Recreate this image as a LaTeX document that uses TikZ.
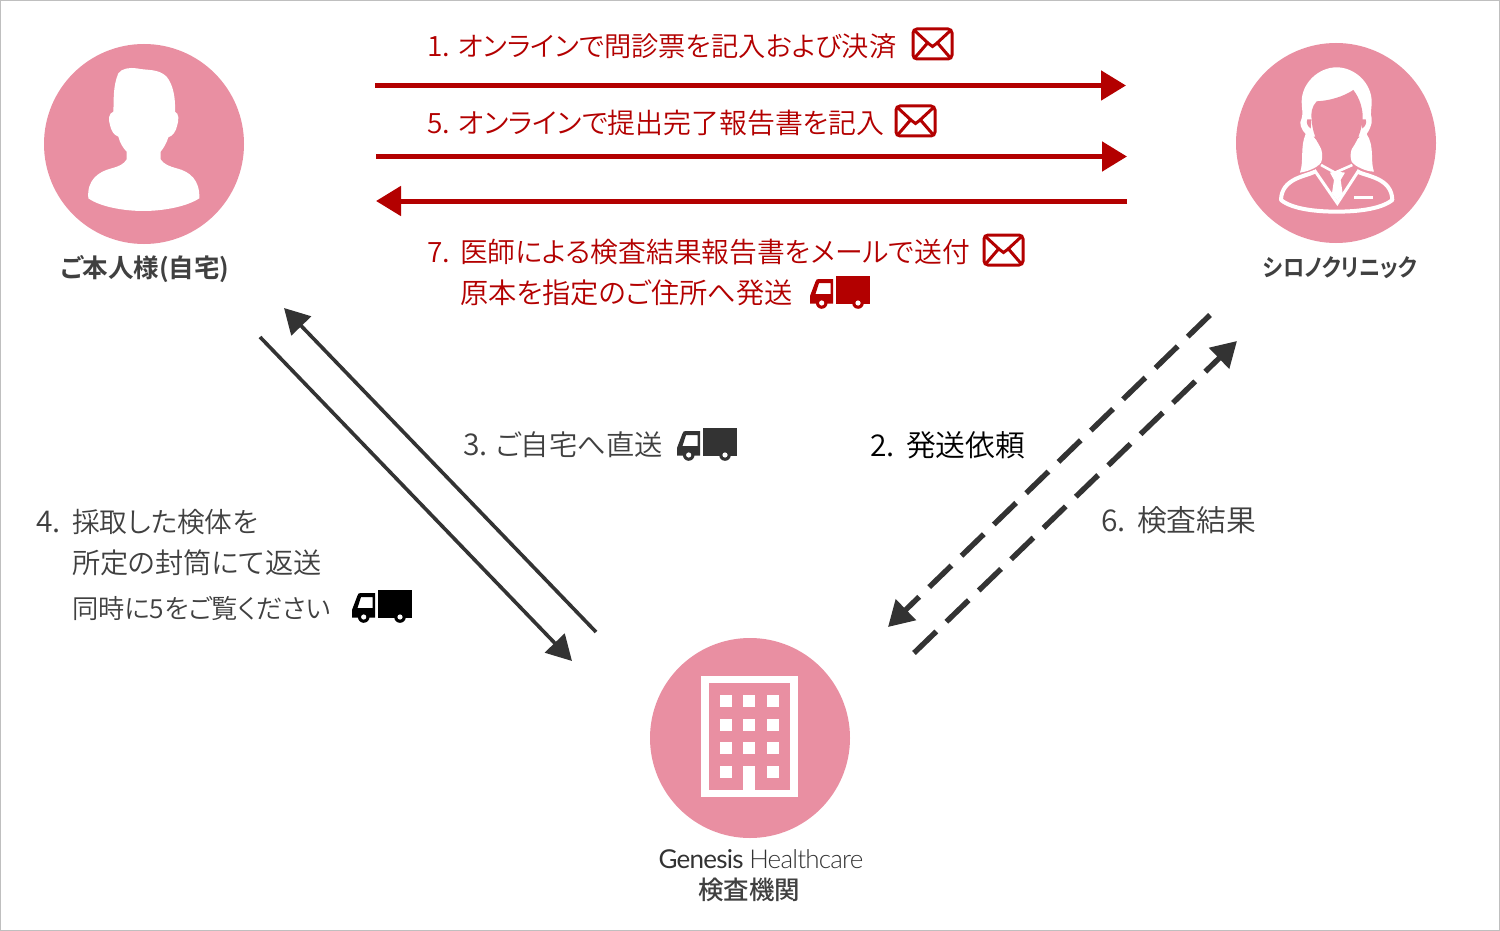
\documentclass[tikz,border=0pt]{standalone}
\usepackage{fontspec}
\usetikzlibrary{arrows.meta}
\setmainfont{Noto Sans CJK JP DemiLight}[BoldFont={Noto Sans CJK JP Bold},RawFeature=+palt]
\newfontfamily\jpmed{Noto Sans CJK JP Medium}
\newfontfamily\jpbold[RawFeature=+palt]{Noto Sans CJK JP Bold}
\newfontfamily\latinlight[LetterSpace=-3]{Lato Light}
\newfontfamily\latinreg[LetterSpace=-3]{Lato}
\definecolor{pinkc}{HTML}{E98FA2}
\definecolor{redc}{HTML}{B30000}
\definecolor{darkc}{HTML}{333333}
\definecolor{textc}{HTML}{404040}
\newcommand{\fs}[1]{\fontsize{#1}{#1}\selectfont}
\tikzset{
  x=1pt,y=-1pt,
  lbl/.style={anchor=base west,inner sep=0pt,outer sep=0pt},
  redlbl/.style={lbl,text=redc},
  darklbl/.style={lbl,text=textc},
  redarrow/.style={draw=redc,line width=5pt,-{Triangle[length=25pt,width=29pt]}},
  solidarrow/.style={draw=darkc,line width=3.6pt,-{Triangle[length=25pt,width=27pt]}},
  dasharrow/.style={draw=darkc,line width=5.4pt,dash pattern=on 31pt off 14pt,-{Triangle[length=25pt,width=28pt]}},
  circ/.style={circle,fill=pinkc,minimum size=200pt,inner sep=0pt,outer sep=0pt},
  envelope/.pic={
    \draw[line width=3pt,rounded corners=4pt,pic actions] (0,0) rectangle (39,30);
    \draw[line width=3pt,pic actions] (2,2) -- (15.5,14.5) -- (19.5,17.5) -- (23.5,14.5) -- (37,2);
    \draw[line width=3pt,pic actions] (2,28.5) -- (14.5,14) (37,28.5) -- (24.5,14);
  },
  truck/.pic={
    \fill[pic actions] (26,0) rectangle (60,27.5);
    \fill[pic actions,even odd rule] (0,27.5) -- (0,20) -- (5.5,5.5) .. controls (6,3.5) and (7,3) .. (9,3) -- (23,3) -- (23,27.5) -- cycle
      (9,7) -- (5.5,18) -- (20.5,18) -- (20.5,7) -- cycle;
    \fill[pic actions] (11.7,27) circle (5.8pt);
    \fill[white] (11.7,27) circle (2.6pt);
    \fill[pic actions] (48,27) circle (5.8pt);
    \fill[white] (48,27) circle (2.6pt);
  }
}
\begin{document}
\begin{tikzpicture}
\useasboundingbox (0,0) rectangle (1500,931);
\fill[white] (0,0) rectangle (1500,931);
\draw[draw=black!25,line width=1pt] (0.5,0.5) rectangle (1499.5,930.5);

% circles
\node[circ] (patient) at (144,144) {};
\node[circ] (clinic) at (1336,143) {};
\node[circ] (lab) at (750,738) {};

% patient icon
\begin{scope}[shift={(30,30)},x=0.3333pt,y=-0.3333pt]
\fill[white] (265,130) .. controls (275,115) and (300,112) .. (320,115)
  .. controls (350,122) and (385,115) .. (410,140)
  .. controls (430,165) and (437,205) .. (435,245)
  .. controls (447,250) and (447,270) .. (442,285)
  .. controls (438,305) and (428,318) .. (415,322)
  .. controls (410,340) and (400,355) .. (392,365)
  -- (392,388) .. controls (400,402) and (420,410) .. (440,415)
  .. controls (480,425) and (510,450) .. (508,505)
  .. controls (470,530) and (400,543) .. (340,543)
  .. controls (280,543) and (210,530) .. (175,505)
  .. controls (170,450) and (205,425) .. (245,415)
  .. controls (265,410) and (283,402) .. (290,388)
  -- (290,365) .. controls (280,355) and (270,340) .. (265,320)
  .. controls (250,315) and (243,300) .. (240,285)
  .. controls (235,270) and (235,250) .. (250,245)
  .. controls (252,210) and (248,170) .. (265,130) -- cycle;
\end{scope}

% clinic icon
\begin{scope}[shift={(1220,30)},x=0.3333pt,y=-0.3333pt]
% hair
\fill[white] (350,112) .. controls (405,112) and (455,160) .. (455,215)
  .. controls (455,240) and (450,250) .. (455,265)
  .. controls (458,285) and (445,305) .. (440,312)
  .. controls (465,350) and (450,395) .. (462,425)
  .. controls (440,425) and (405,410) .. (395,395)
  .. controls (385,370) and (400,335) .. (420,320)
  .. controls (300,320) and (290,320) .. (280,320)
  .. controls (305,345) and (312,375) .. (303,398)
  .. controls (290,415) and (260,425) .. (240,428)
  .. controls (252,395) and (240,350) .. (257,312)
  .. controls (245,300) and (235,280) .. (245,265)
  .. controls (250,250) and (245,235) .. (245,215)
  .. controls (245,160) and (295,112) .. (350,112) -- cycle;
% face
\fill[pinkc] (400,180) .. controls (370,200) and (330,212) .. (290,214)
  .. controls (275,230) and (272,250) .. (275,270)
  .. controls (278,320) and (305,375) .. (350,393)
  .. controls (395,375) and (422,320) .. (428,270)
  .. controls (430,240) and (420,205) .. (400,180) -- cycle;
\fill[white] (256,262) .. controls (250,272) and (252,285) .. (262,295) -- (268,270) -- cycle;
\fill[white] (443,262) .. controls (450,272) and (448,285) .. (438,295) -- (432,270) -- cycle;
\fill[pinkc] (262,268) .. controls (258,278) and (262,288) .. (272,296) -- (274,268) -- cycle;
\fill[pinkc] (437,268) .. controls (441,278) and (437,288) .. (427,296) -- (425,268) -- cycle;
% shoulders / jacket outline
\draw[white,line width=4pt,line join=round] (285,425) .. controls (255,440) and (185,445) .. (183,510)
  .. controls (220,540) and (300,545) .. (350,545)
  .. controls (400,545) and (480,540) .. (517,510)
  .. controls (515,445) and (445,440) .. (412,425);
\draw[white,line width=3pt] (283,420) -- (352,520) -- (417,420);
\draw[white,line width=2.6pt] (303,405) -- (345,428) -- (397,405);
\fill[white] (330,428) -- (345,424) -- (375,428) -- (362,450) -- (368,490) -- (352,512) -- (336,490) -- (342,450) -- cycle;
\fill[white] (403,497) rectangle (460,507);
\end{scope}

% lab icon
\begin{scope}[shift={(640,630)},x=0.3333pt,y=-0.3333pt]
\fill[white] (183,138) rectangle (473,502);
\fill[pinkc] (206,160) rectangle (451,480);
\foreach \xx in {240,310,380}{
  \foreach \yy in {196,266,337}{
    \fill[white] (\xx,\yy) rectangle ++(36,36);
  }
}
\fill[white] (240,408) rectangle (276,444);
\fill[white] (380,408) rectangle (416,444);
\fill[white] (310,408) rectangle (346,502);
\end{scope}

% node labels
\node[anchor=base,inner sep=0pt,text=textc] (patientlbl) at (145,277) {\jpbold\fs{25.5}ご本人様(自宅)};
\node[anchor=base,inner sep=0pt,text=textc] (cliniclbl) at (1340,276) {\scalebox{0.885}[1]{\jpbold\fs{24}シロノクリニック}};
\node[anchor=base,inner sep=0pt,text=darkc] (genesis) at (761,868) {\fs{26}{\latinreg Genesis} {\latinlight Healthcare}};
\node[anchor=base,inner sep=0pt,text=textc] (lablbl) at (749,899) {\jpmed\fs{25.5}検査機関};

% coordinates for arrows
\coordinate (r1s) at (375,85.5); \coordinate (r1e) at (1126,85.5);
\coordinate (r2s) at (376,156.5); \coordinate (r2e) at (1127,156.5);
\coordinate (r3s) at (1127,201); \coordinate (r3e) at (376,201);
\coordinate (s1s) at (596,632); \coordinate (s1e) at (284,308);
\coordinate (s2s) at (260,337); \coordinate (s2e) at (572,661);
\coordinate (d1s) at (1210,315); \coordinate (d1e) at (888,627);
\coordinate (d2s) at (914,653); \coordinate (d2e) at (1237,341);

\draw[redarrow] (r1s) -- (r1e);
\draw[redarrow] (r2s) -- (r2e);
\draw[redarrow] (r3s) -- (r3e);
\draw[solidarrow] (s1s) -- (s1e);
\draw[solidarrow] (s2s) -- (s2e);
\draw[dasharrow] (d1s) -- (d1e);
\draw[dasharrow] (d2s) -- (d2e);

% red labels
\node[redlbl] (t1n) at (427,57) {\fs{28}1.};
\node[redlbl] (t1) at (458,57) {\fs{27.25}オンラインで問診票を記入および決済};
\node[redlbl] (t5n) at (427,134) {\fs{28}5.};
\node[redlbl] (t5) at (458,134) {\fs{27.9}オンラインで提出完了報告書を記入};
\node[redlbl] (t7n) at (427,262) {\fs{28}7.};
\node[redlbl] (t7) at (460,262) {\fs{27.8}医師による検査結果報告書をメールで送付};
\node[redlbl] (t7b) at (460,303) {\fs{28.25}原本を指定のご住所へ発送};

% dark labels
\node[darklbl] (t3n) at (463,455) {\fs{30}3.};
\node[darklbl] (t3) at (496,455) {\fs{28.3}ご自宅へ直送};
\node[darklbl,text=black] (t2n) at (870,456) {\fs{30}2.};
\node[darklbl,text=black] (t2) at (906,456) {\fs{29.8}発送依頼};
\node[darklbl] (t6n) at (1101,531) {\fs{30}6.};
\node[darklbl] (t6) at (1137,531) {\fs{29.8}検査結果};
\node[darklbl] (t4n) at (36,532) {\fs{30}4.};
\node[darklbl] (t4) at (72,532) {\fs{27.7}採取した検体を};
\node[darklbl] (t4b) at (72,573) {\fs{28.2}所定の封筒にて返送};
\node[darklbl] (t4c) at (72,618) {\fs{26.3}同時に5をご覧ください};

% icons
\pic[draw=redc] at (913,29) {envelope};
\pic[draw=redc] at (896,106) {envelope};
\pic[draw=redc] at (984,235) {envelope};
\pic[fill=redc] at (810,276) {truck};
\pic[fill=darkc] at (677,428) {truck};
\pic[fill=black] at (352,590) {truck};
\end{tikzpicture}
\end{document}
